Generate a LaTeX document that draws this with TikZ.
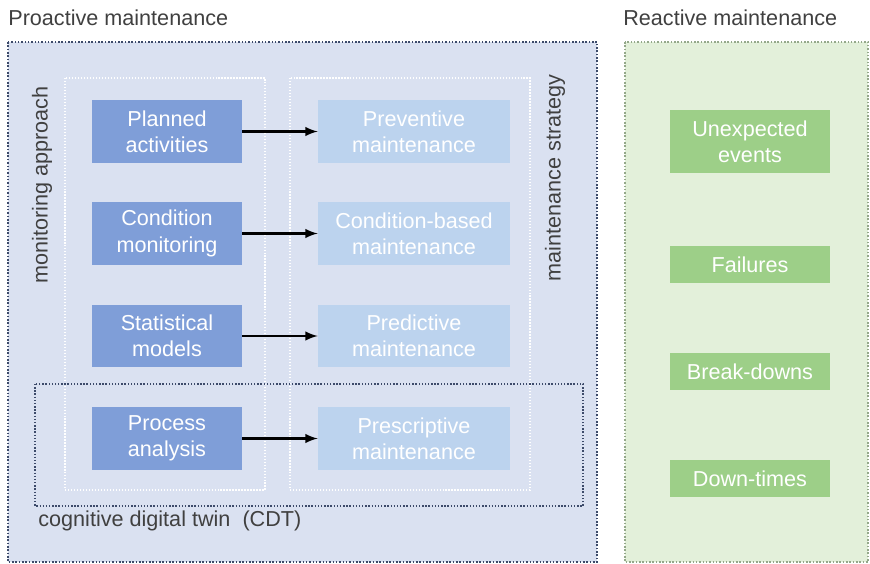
\documentclass[tikz,border=0pt]{standalone}
\usepackage{fontspec}
\setmainfont{Liberation Sans}
\usepackage{xcolor}
\usepackage{tikz}

\definecolor{panelblue}{HTML}{DAE1F1}
\definecolor{darkbox}{HTML}{7F9ED8}
\definecolor{lightbox}{HTML}{BCD3EE}
\definecolor{panelgreen}{HTML}{E3F0DA}
\definecolor{greenbox}{HTML}{9DCF88}
\definecolor{labelgray}{HTML}{404040}
\definecolor{rimblue}{HTML}{3C4A6A}
\definecolor{rimgreen}{HTML}{94A88A}

\tikzset{
	approach/.style = {fill=darkbox, text=white, minimum width=3cm, minimum height=1.26cm, align=center, inner sep=0pt},
	strategy/.style = {fill=lightbox, text=white, minimum width=3.84cm, minimum height=1.26cm, align=center, inner sep=0pt},
	reactbox/.style = {fill=greenbox, text=white, minimum width=3.2cm, align=center, inner sep=0pt},
	caption/.style = {text=labelgray, inner sep=0pt},
	flow/.style = {-latex, line width=1.4pt, black}
}

\begin{document}
\begin{tikzpicture}[x=0.02cm, y=-0.02cm, font=\fontsize{12.3}{15}\selectfont]
	\useasboundingbox (0,0) rectangle (870,564);

	% proactive side
	\draw [rimblue, densely dotted, line width=0.9pt, fill=panelblue] (8,42) rectangle (597,562);
	\draw [white, densely dotted, line width=0.7pt] (65,78) rectangle (265,490);
	\draw [white, densely dotted, line width=0.7pt] (290,78) rectangle (530,490);
	\draw [rimblue, densely dotted, line width=0.8pt] (35,384) rectangle (583,506);

	\node [caption, anchor=west] (pro) at (8,18) {Proactive maintenance};
	\node [caption, rotate=90] (mon) at (42,185) {monitoring approach};
	\node [caption, rotate=90] (str) at (555,178) {maintenance strategy};
	\node [caption, anchor=west] (cdt) at (38,521) {cognitive digital twin\ \ (CDT)};

	\node [approach] (plan) at (167,131.5) {Planned\\activities};
	\node [approach] (cond) at (167,233.5) {Condition\\monitoring};
	\node [approach] (stat) at (167,336) {Statistical\\models};
	\node [approach] (proc) at (167,438.5) {Process\\analysis};

	\node [strategy] (prev) at (414,131.5) {Preventive\\maintenance};
	\node [strategy] (cbm) at (414,233.5) {Condition-based\\maintenance};
	\node [strategy] (pred) at (414,336) {Predictive\\maintenance};
	\node [strategy] (pres) at (414,438.5) {Prescriptive\\maintenance};

	\draw [flow] (plan) -- (prev);
	\draw [flow] (cond) -- (cbm);
	\draw [flow] (stat) -- (pred);
	\draw [flow] (proc) -- (pres);

	% reactive side
	\draw [rimgreen, densely dotted, line width=0.9pt, fill=panelgreen] (625,42) rectangle (868,562);
	\node [caption, anchor=west] (rea) at (623,18) {Reactive maintenance};

	\node [reactbox, minimum height=1.26cm] (unex) at (750,141.5) {Unexpected\\events};
	\node [reactbox, minimum height=0.74cm] (fail) at (750,264.5) {Failures};
	\node [reactbox, minimum height=0.74cm] (brk) at (750,371.5) {Break-downs};
	\node [reactbox, minimum height=0.74cm] (down) at (750,478.5) {Down-times};
\end{tikzpicture}
\end{document}
